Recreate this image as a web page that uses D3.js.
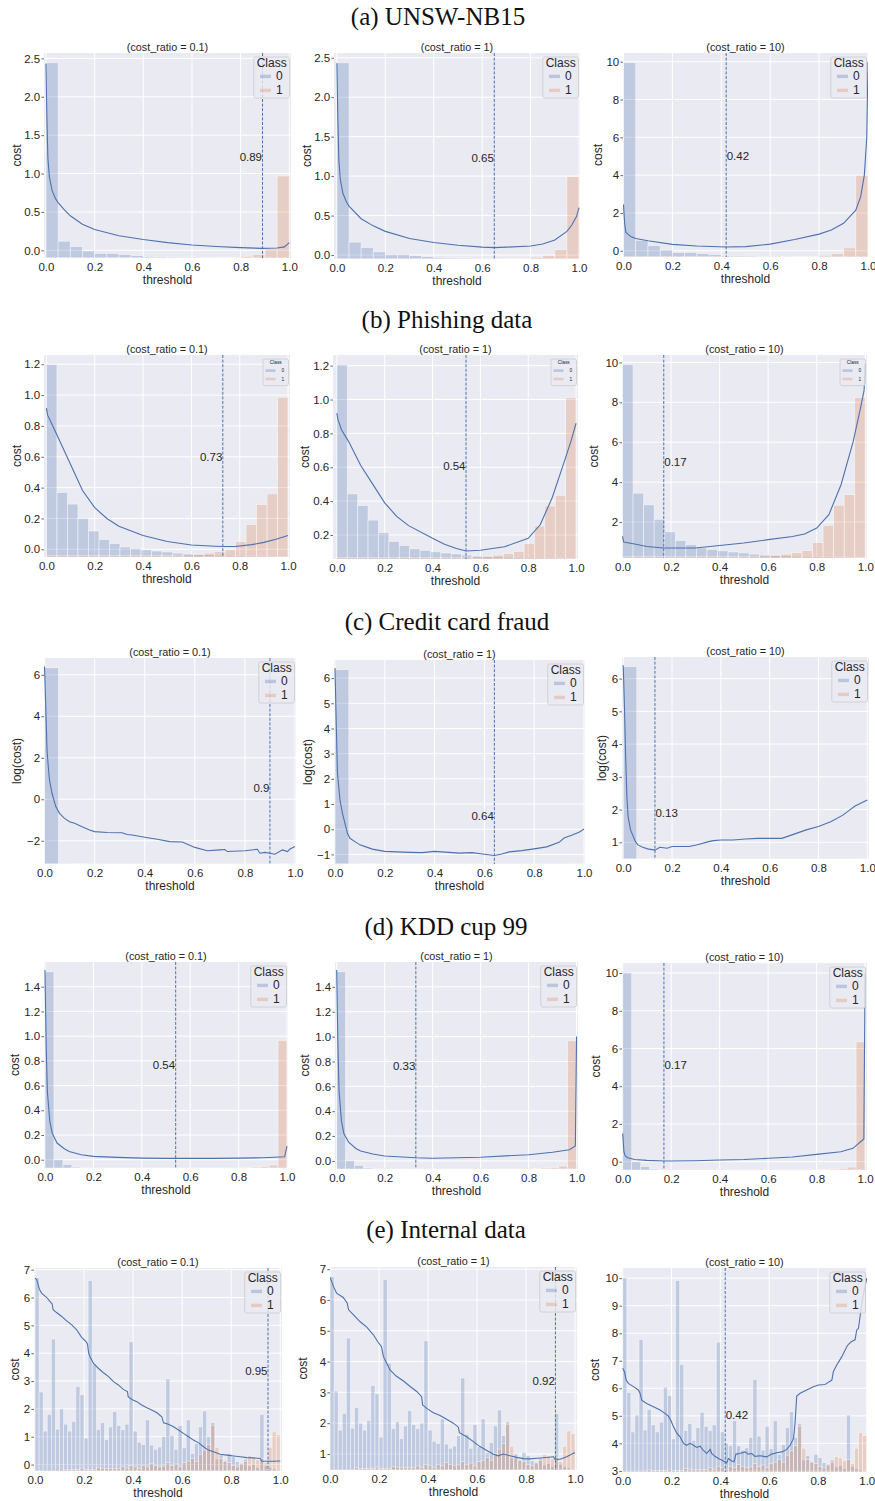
<!DOCTYPE html>
<html><head><meta charset="utf-8">
<script src="https://cdn.jsdelivr.net/npm/d3@7"></script>
<style>
body{margin:0;background:#fff}
svg{display:block}
text{font-family:"Liberation Sans",Arial,sans-serif;fill:#262626}
</style>
</head><body>
<svg id="chart" width="875" height="1501"></svg>
<script>
// ---------------- DATA ----------------
const sectionTitles = ["(a) UNSW-NB15", "(b) Phishing data", "(c) Credit card fraud", "(d) KDD cup 99", "(e) Internal data"];
const costRatios = ["0.1", "1", "10"];
const yAxisLabels = ["cost", "cost", "log(cost)", "cost", "cost"];
const xAxisLabel = "threshold";
const classLabels = ["0", "1"];
const legendTitle = "Class";
const xTickValues = [0, 0.2, 0.4, 0.6, 0.8, 1.0];

const optimalThresholds = [[0.89, 0.65, 0.42], [0.73, 0.54, 0.17], [0.9, 0.64, 0.13], [0.54, 0.33, 0.17], [0.95, 0.92, 0.42]];
const thresholdLabelY = [[1.22, 1.23, 5.0], [0.6, 0.61, 5.03], [0.53, 0.53, 1.91], [0.77, 0.76, 5.1], [3.37, 3.38, 5.03]];

const yTicksA = [[0, 0.5, 1, 1.5, 2, 2.5], [0, 0.5, 1, 1.5, 2, 2.5], [0, 2, 4, 6, 8, 10]];
const yTicksB = [[0, 0.2, 0.4, 0.6, 0.8, 1.0, 1.2], [0.2, 0.4, 0.6, 0.8, 1.0, 1.2], [2, 4, 6, 8, 10]];
const yTicksC = [[-2, 0, 2, 4, 6], [-1, 0, 1, 2, 3, 4, 5, 6], [1, 2, 3, 4, 5, 6]];
const yTicksD = [[0, 0.2, 0.4, 0.6, 0.8, 1.0, 1.2, 1.4], [0, 0.2, 0.4, 0.6, 0.8, 1.0, 1.2, 1.4], [0, 2, 4, 6, 8, 10]];
const yTicksE = [[0, 1, 2, 3, 4, 5, 6, 7], [1, 2, 3, 4, 5, 6, 7], [3, 4, 5, 6, 7, 8, 9, 10]];

// histogram bar heights (relative), bins evenly spanning threshold 0..1
const histA0 = [100, 8.6, 5.8, 3.6, 2.3, 2.3, 1.7, 1.2, 0.7, 0.6, 0.5, 0.4, 0.4, 0.3, 0.3, 0.3, 0.2, 0.2, 0.2, 0.2];
const histA1 = [0.1, 0.1, 0.1, 0.1, 0.1, 0.1, 0.1, 0.1, 0.1, 0.1, 0.1, 0.1, 0.1, 0.1, 0.2, 0.3, 0.9, 1.8, 4.7, 42];
const histB0 = [100, 33.5, 27.5, 20, 13.5, 9, 6.9, 5.2, 4.4, 3.7, 3.1, 2.6, 2.0, 1.6, 1.3, 1.1, 0.9, 0.8, 0.7, 0.6, 0.5, 0.4, 0.3];
const histB1 = [0.8, 0.8, 0.8, 0.8, 0.8, 0.8, 0.8, 0.8, 0.8, 0.8, 0.8, 0.8, 0.9, 1.1, 1.4, 2.0, 2.8, 3.8, 8.0, 16.9, 27.3, 32.8, 83];
const histC0 = [100, 0.3, 0.2, 0.15, 0.1, 0.1, 0.1, 0.1, 0.1, 0.1, 0.1, 0.1, 0.1, 0.1, 0.1, 0.1, 0.1, 0.1];
const histC1 = [0.05, 0.05, 0.05, 0.05, 0.05, 0.05, 0.05, 0.05, 0.05, 0.05, 0.05, 0.05, 0.05, 0.05, 0.05, 0.05, 0.1, 0.3];
const histD0 = [100, 4.2, 1.8, 0.5, 0.2, 0.15, 0.1, 0.1, 0.1, 0.1, 0.05, 0.05, 0.05, 0.05, 0.05, 0.05, 0.05, 0.05, 0.05, 0.05, 0.05, 0.05, 0.05, 0.05, 0.05, 0.05, 0.05];
const histD1 = [0, 0, 0, 0, 0, 0, 0, 0, 0, 0, 0, 0, 0, 0, 0, 0, 0, 0, 0, 0, 0, 0, 0.3, 0.5, 0.8, 1.5, 65];
const histE0 = [6.93, 2.83, 1.43, 2.03, 4.73, 1.5, 2.23, 1.68, 1.43, 1.78, 3.03, 2.73, 1.18, 6.83, 3.83, 1.48, 1.73, 1.13, 1.58, 2.13,
  1.63, 1.48, 1.68, 4.63, 1.43, 1.03, 0.95, 1.83, 0.93, 0.78, 0.86, 1.23, 3.3, 1.28, 0.78, 1.63, 0.83, 1.83, 0.63, 0.98,
  1.58, 2.15, 1.23, 1.73, 0.43, 0.58, 0.38, 0.63, 0.51, 0.33, 0.28, 0.43, 0.18, 0.23, 0.13, 2.03, 0.2, 0.13, 0.08, 0.03];
const histE1 = [0, 0, 0, 0, 0, 0, 0.08, 0.05, 0.05, 0.05, 0.05, 0.1, 0.05, 0.05, 0.05, 0.12, 0.1, 0.08, 0.08, 0.08,
  0.08, 0.15, 0.1, 0.2, 0.15, 0.1, 0.2, 0.15, 0.27, 0.2, 0.15, 0.18, 0.3, 0.2, 0.25, 0.15, 0.3, 0.35, 0.45, 0.35,
  0.6, 0.75, 0.95, 1.64, 0.85, 0.45, 0.35, 0.3, 0.2, 0.15, 0.25, 0.35, 0.55, 0.5, 0.4, 0.45, 0.3, 0.85, 1.4, 1.3];

// cost curves: [threshold, cost]
const curveA1 = [[0,2.43],[0.004,1.7],[0.008,1.2],[0.014,0.96],[0.025,0.78],[0.04,0.67],[0.05,0.62],[0.075,0.53],[0.1,0.45],[0.15,0.34],[0.2,0.27],[0.3,0.19],[0.4,0.14],[0.5,0.1],[0.6,0.07],[0.7,0.05],[0.8,0.035],[0.89,0.025],[0.95,0.03],[0.98,0.045],[1.0,0.1]];
const curveA2 = [[0,2.43],[0.004,1.7],[0.008,1.2],[0.014,0.96],[0.025,0.78],[0.04,0.67],[0.05,0.62],[0.1,0.46],[0.15,0.37],[0.2,0.3],[0.3,0.21],[0.4,0.16],[0.5,0.125],[0.6,0.1],[0.65,0.094],[0.7,0.1],[0.8,0.115],[0.85,0.14],[0.9,0.19],[0.95,0.3],[0.97,0.38],[0.99,0.49],[1.0,0.6]];
const curveA3 = [[0,2.45],[0.005,1.4],[0.01,0.97],[0.03,0.75],[0.05,0.65],[0.1,0.53],[0.2,0.34],[0.3,0.25],[0.42,0.2],[0.5,0.22],[0.6,0.35],[0.7,0.6],[0.8,0.88],[0.85,1.1],[0.9,1.45],[0.95,2.15],[0.97,2.86],[0.985,4.0],[0.995,6.0],[1.0,10.0]];
const curveB1 = [[0,0.915],[0.005,0.87],[0.02,0.82],[0.05,0.72],[0.1,0.55],[0.15,0.38],[0.2,0.27],[0.25,0.2],[0.3,0.15],[0.4,0.09],[0.5,0.05],[0.6,0.028],[0.7,0.02],[0.73,0.018],[0.78,0.018],[0.85,0.03],[0.9,0.045],[0.95,0.065],[1.0,0.09]];
const curveB2 = [[0,0.92],[0.005,0.88],[0.02,0.82],[0.05,0.75],[0.1,0.61],[0.15,0.5],[0.2,0.39],[0.25,0.31],[0.3,0.255],[0.4,0.18],[0.45,0.145],[0.5,0.12],[0.54,0.105],[0.6,0.11],[0.7,0.13],[0.8,0.18],[0.85,0.26],[0.9,0.42],[0.95,0.63],[0.98,0.76],[1.0,0.86]];
const curveB3 = [[0,1.28],[0.005,1.0],[0.05,0.9],[0.1,0.78],[0.17,0.7],[0.3,0.7],[0.4,0.83],[0.5,0.95],[0.6,1.12],[0.7,1.28],[0.75,1.4],[0.8,1.7],[0.85,2.37],[0.9,3.87],[0.95,6.03],[0.98,7.7],[0.995,8.6],[1.0,9.95]];
const curveC1 = [[0,6.4],[0.005,4.48],[0.01,2.39],[0.015,1.58],[0.02,0.93],[0.03,0.29],[0.045,-0.35],[0.06,-0.68],[0.08,-0.92],[0.1,-1.08],[0.12,-1.16],[0.15,-1.32],[0.18,-1.48],[0.2,-1.56],[0.25,-1.6],[0.31,-1.61],[0.33,-1.7],[0.35,-1.72],[0.4,-1.83],[0.45,-1.93],[0.5,-2.04],[0.55,-2.06],[0.6,-2.32],[0.65,-2.48],[0.7,-2.44],[0.72,-2.42],[0.73,-2.52],[0.8,-2.48],[0.85,-2.41],[0.86,-2.6],[0.88,-2.56],[0.9,-2.6],[0.92,-2.65],[0.95,-2.44],[0.97,-2.52],[0.98,-2.4],[1.0,-2.28]];
const curveC2 = [[0,6.4],[0.005,4.2],[0.01,2.22],[0.02,1.16],[0.03,0.63],[0.05,-0.16],[0.06,-0.36],[0.08,-0.49],[0.1,-0.62],[0.13,-0.72],[0.15,-0.79],[0.2,-0.88],[0.3,-0.92],[0.35,-0.93],[0.4,-0.88],[0.5,-0.95],[0.55,-0.93],[0.6,-0.99],[0.64,-1.04],[0.67,-0.98],[0.7,-0.9],[0.75,-0.85],[0.8,-0.78],[0.85,-0.7],[0.9,-0.52],[0.92,-0.35],[0.95,-0.24],[0.98,-0.12],[1.0,0.01]];
const curveC3 = [[0,6.41],[0.005,5.14],[0.01,3.61],[0.015,2.39],[0.02,1.78],[0.03,1.38],[0.05,1.02],[0.06,0.92],[0.08,0.85],[0.1,0.8],[0.13,0.76],[0.15,0.85],[0.18,0.82],[0.2,0.87],[0.27,0.87],[0.3,0.92],[0.35,1.02],[0.37,1.05],[0.4,1.07],[0.45,1.07],[0.5,1.1],[0.55,1.12],[0.6,1.12],[0.65,1.12],[0.7,1.25],[0.75,1.38],[0.8,1.48],[0.85,1.63],[0.9,1.83],[0.93,2.0],[0.95,2.11],[1.0,2.29]];
const curveD1 = [[0,1.535],[0.005,0.93],[0.01,0.55],[0.02,0.31],[0.03,0.215],[0.05,0.135],[0.08,0.089],[0.1,0.067],[0.15,0.04],[0.2,0.027],[0.3,0.019],[0.4,0.013],[0.5,0.011],[0.7,0.011],[0.8,0.013],[0.9,0.016],[0.99,0.024],[1.0,0.11]];
const curveD2 = [[0,1.535],[0.005,0.94],[0.01,0.56],[0.02,0.32],[0.03,0.22],[0.05,0.15],[0.08,0.1],[0.1,0.08],[0.15,0.055],[0.2,0.04],[0.33,0.025],[0.4,0.022],[0.6,0.03],[0.8,0.05],[0.9,0.07],[0.97,0.09],[0.995,0.12],[1.0,1.0]];
const curveD3 = [[0,1.5],[0.005,0.53],[0.01,0.32],[0.02,0.21],[0.05,0.12],[0.1,0.07],[0.17,0.035],[0.2,0.035],[0.3,0.05],[0.4,0.09],[0.5,0.12],[0.6,0.18],[0.7,0.25],[0.8,0.39],[0.9,0.53],[0.95,0.71],[0.99,1.15],[0.995,1.2],[1.0,10.0]];
const curveE1 = [[0,6.7],[0.007,6.64],[0.018,6.3],[0.027,6.16],[0.048,6.0],[0.061,5.86],[0.07,5.77],[0.074,5.56],[0.088,5.46],[0.109,5.32],[0.129,5.16],[0.15,5.02],[0.17,4.84],[0.19,4.57],[0.208,4.42],[0.214,4.33],[0.219,4.0],[0.224,3.88],[0.238,3.64],[0.258,3.46],[0.279,3.3],[0.3,3.16],[0.32,2.98],[0.34,2.86],[0.36,2.7],[0.377,2.62],[0.38,2.44],[0.395,2.34],[0.415,2.26],[0.435,2.14],[0.456,2.04],[0.476,1.96],[0.497,1.86],[0.517,1.72],[0.524,1.5],[0.544,1.45],[0.565,1.36],[0.585,1.24],[0.605,1.12],[0.626,1.0],[0.646,0.88],[0.667,0.78],[0.687,0.64],[0.707,0.52],[0.728,0.46],[0.755,0.37],[0.782,0.34],[0.81,0.31],[0.837,0.28],[0.864,0.25],[0.891,0.24],[0.918,0.22],[0.925,0.12],[0.946,0.12],[0.973,0.12],[1.0,0.13]];
const curveE2 = [[0,6.74],[0.014,6.44],[0.027,6.22],[0.054,6.08],[0.07,5.9],[0.076,5.68],[0.095,5.52],[0.122,5.3],[0.15,5.12],[0.177,4.87],[0.197,4.62],[0.21,4.49],[0.218,4.16],[0.231,3.95],[0.245,3.73],[0.27,3.53],[0.3,3.37],[0.327,3.19],[0.354,3.03],[0.374,2.86],[0.378,2.59],[0.395,2.48],[0.42,2.35],[0.449,2.25],[0.476,2.13],[0.503,2.0],[0.524,1.87],[0.528,1.69],[0.558,1.56],[0.585,1.4],[0.612,1.24],[0.64,1.11],[0.667,0.99],[0.687,0.94],[0.707,1.0],[0.735,0.94],[0.762,0.89],[0.789,0.85],[0.816,0.84],[0.844,0.86],[0.871,0.88],[0.912,0.91],[0.918,0.83],[0.939,0.83],[0.966,0.91],[0.993,1.02],[1.0,1.04]];
const curveE3 = [[0,6.73],[0.007,6.6],[0.014,6.3],[0.023,6.18],[0.044,6.06],[0.064,5.94],[0.071,5.82],[0.078,5.57],[0.098,5.45],[0.126,5.33],[0.153,5.21],[0.173,5.09],[0.187,4.99],[0.197,4.84],[0.208,4.6],[0.221,4.38],[0.235,4.24],[0.249,4.0],[0.262,3.93],[0.276,4.0],[0.29,3.93],[0.303,3.85],[0.317,3.9],[0.33,3.75],[0.344,3.63],[0.358,3.78],[0.365,3.63],[0.378,3.53],[0.392,3.45],[0.413,3.36],[0.426,3.29],[0.433,3.45],[0.447,3.36],[0.456,3.33],[0.464,3.61],[0.48,3.63],[0.501,3.69],[0.515,3.61],[0.529,3.63],[0.542,3.53],[0.563,3.55],[0.59,3.51],[0.61,3.61],[0.631,3.66],[0.652,3.69],[0.672,3.78],[0.686,3.93],[0.7,4.18],[0.706,4.72],[0.713,5.72],[0.727,5.82],[0.754,5.94],[0.781,6.06],[0.802,6.12],[0.829,6.14],[0.836,6.18],[0.857,6.3],[0.863,6.6],[0.877,6.85],[0.898,7.15],[0.918,7.51],[0.925,7.6],[0.938,7.7],[0.952,7.76],[0.959,8.12],[0.966,8.18],[0.98,9.09],[0.993,9.7],[1.0,10.0]];

// ---------------- LAYOUT ----------------
const sectionTitleY = [25, 328, 630, 935, 1238];
const sectionTitleX = [438, 447, 447, 446, 446];
const panelRects = [
  [[44, 53, 291, 258], [334, 53, 580, 259], [623, 53, 868, 257]],
  [[44, 355, 290, 557], [333, 355, 578, 559], [622, 355, 867, 558]],
  [[44, 658, 296, 864], [334, 660, 585, 864], [622, 657, 869, 859]],
  [[44, 962, 288, 1168], [335, 962, 578, 1169], [622, 963, 867, 1170]],
  [[34, 1268, 282, 1471], [330, 1267, 577, 1470], [622, 1268, 867, 1472]]
];
const xDomains = [
  [[-0.008, 1.007], [-0.012, 1.004], [-0.002, 1.0]],
  [[-0.01, 1.008], [-0.016, 1.008], [-0.002, 1.007]],
  [[-0.002, 1.004], [-0.004, 1.004], [-0.005, 1.007]],
  [[-0.004, 1.004], [-0.007, 1.006], [-0.003, 1.008]],
  [[-0.004, 1.007], [0.0, 1.008], [-0.003, 1.001]]
];
const yDomains = [
  [[-0.1, 2.57], [-0.05, 2.56], [-0.33, 10.46]],
  [[-0.05, 1.26], [0.058, 1.263], [0.2, 10.37]],
  [[-3.12, 6.81], [-1.38, 6.72], [0.49, 6.66]],
  [[-0.067, 1.6], [-0.065, 1.6], [-0.44, 10.53]],
  [[-0.23, 7.06], [0.48, 7.07], [2.96, 10.37]]
];
const yLabelOffsets = [[27.3, 27.3, 24.7], [26.7, 28, 27.7], [26.7, 25.7, 20.3], [29, 30, 26.3], [19.3, 26.7, 27]];
const smallLegendRow = [false, true, false, false, false];

// ---------------- DRAW ----------------
const hists0 = [histA0, histB0, histC0, histD0, histE0];
const hists1 = [histA1, histB1, histC1, histD1, histE1];
const curves = [[curveA1, curveA2, curveA3], [curveB1, curveB2, curveB3], [curveC1, curveC2, curveC3], [curveD1, curveD2, curveD3], [curveE1, curveE2, curveE3]];
const yTicks = [yTicksA, yTicksB, yTicksC, yTicksD, yTicksE];

const BG = "#eaeaf2", BLUE = "#4c72b0", ORANGE = "#dd8452";
const svg = d3.select("#chart");
svg.append("rect").attr("width", 875).attr("height", 1501).attr("fill", "#fff");

sectionTitles.forEach((t, i) => {
  svg.append("text").attr("x", sectionTitleX[i]).attr("y", sectionTitleY[i])
    .attr("text-anchor", "middle")
    .style("font-family", '"Liberation Serif","DejaVu Serif",serif')
    .style("font-size", "25px").style("fill", "#111").text(t);
});

let clipId = 0;
function drawPanel(r, c) {
  const [x0, y0, x1, y1] = panelRects[r][c];
  const x = d3.scaleLinear().domain(xDomains[r][c]).range([x0, x1]);
  const y = d3.scaleLinear().domain(yDomains[r][c]).range([y1, y0]);
  const g = svg.append("g");

  g.append("rect").attr("x", x0).attr("y", y0).attr("width", x1 - x0).attr("height", y1 - y0).attr("fill", BG);

  // grid
  g.selectAll(".gx").data(xTickValues).join("line")
    .attr("x1", d => x(d)).attr("x2", d => x(d)).attr("y1", y0).attr("y2", y1)
    .attr("stroke", "#fff").attr("stroke-width", 1);
  g.selectAll(".gy").data(yTicks[r][c]).join("line")
    .attr("x1", x0).attr("x2", x1).attr("y1", d => y(d)).attr("y2", d => y(d))
    .attr("stroke", "#fff").attr("stroke-width", 1);

  const id = "clip" + (clipId++);
  g.append("clipPath").attr("id", id).append("rect")
    .attr("x", x0).attr("y", y0).attr("width", x1 - x0).attr("height", y1 - y0);
  const inner = g.append("g").attr("clip-path", `url(#${id})`);

  // histogram (hidden twin axis)
  const h0 = hists0[r], h1 = hists1[r], n = h0.length;
  const yh = d3.scaleLinear().domain([0, d3.max(h0.concat(h1)) * 1.05]).range([y1, y0]);
  [[h0, BLUE], [h1, ORANGE]].forEach(([hv, col]) => {
    inner.append("g").selectAll("rect").data(hv).join("rect")
      .attr("x", (d, k) => x(k / n)).attr("width", (d, k) => x((k + 1) / n) - x(k / n))
      .attr("y", d => yh(d)).attr("height", d => y1 - yh(d))
      .attr("fill", col).attr("fill-opacity", 0.27)
      .attr("stroke", "#fff").attr("stroke-opacity", 0.6).attr("stroke-width", 0.7);
  });

  // cost curve
  const line = d3.line().x(d => x(d[0])).y(d => y(d[1]));
  inner.append("path").datum(curves[r][c]).attr("d", line)
    .attr("fill", "none").attr("stroke", BLUE).attr("stroke-width", 1.1);

  // optimal threshold
  const th = optimalThresholds[r][c];
  inner.append("line").attr("x1", x(th)).attr("x2", x(th)).attr("y1", y0).attr("y2", y1)
    .attr("stroke", BLUE).attr("stroke-width", 1).attr("stroke-dasharray", "3,1.6");
  const anchorEnd = c < 2;
  g.append("text").attr("x", anchorEnd ? x(th) - 0.5 : x(th) + 0.5).attr("y", y(thresholdLabelY[r][c]))
    .attr("text-anchor", anchorEnd ? "end" : "start").attr("dominant-baseline", "central")
    .style("font-size", "11.5px").text(String(th));

  // axes
  const allInt = yTicks[r][c].every(v => Number.isInteger(v));
  const ya = d3.axisLeft(y).tickValues(yTicks[r][c]).tickFormat(d3.format(allInt ? "d" : ".1f"))
    .tickSize(2.6).tickPadding(1.2);
  const yg = g.append("g").attr("transform", `translate(${x0},0)`).call(ya);
  yg.select(".domain").remove();
  yg.selectAll("line").attr("stroke", "#444").attr("stroke-width", 0.8);
  yg.selectAll("text").style("font-size", "11.5px").style("font-family", '"Liberation Sans",Arial,sans-serif').attr("fill", "#262626");

  const xa = d3.axisBottom(x).tickValues(xTickValues).tickFormat(d3.format(".1f")).tickSize(0).tickPadding(5);
  const xg = g.append("g").attr("transform", `translate(0,${y1})`).call(xa);
  xg.select(".domain").remove();
  xg.selectAll("text").style("font-size", "11.5px").style("font-family", '"Liberation Sans",Arial,sans-serif').attr("fill", "#262626");

  // labels
  const cx = (x0 + x1) / 2;
  g.append("text").attr("x", cx).attr("y", y0 - 2).attr("text-anchor", "middle")
    .style("font-size", "10.8px").text(`(cost_ratio = ${costRatios[c]})`);
  g.append("text").attr("x", cx).attr("y", y1 + 26).attr("text-anchor", "middle")
    .style("font-size", "12px").text(xAxisLabel);
  const lx = x0 - yLabelOffsets[r][c], ly = (y0 + y1) / 2;
  g.append("text").attr("transform", `translate(${lx},${ly}) rotate(-90)`)
    .attr("text-anchor", "middle").attr("dominant-baseline", "central")
    .style("font-size", "12px").text(yAxisLabels[r]);

  // legend
  const small = smallLegendRow[r];
  const L = small
    ? {w: 25.5, h: 26.6, tf: 4.8, ef: 4.8, ty: 3.6, ey: [11.6, 20], px: 2.5, pw: 10, ph: 2.6, lx: 18.5}
    : {w: 35.7, h: 41, tf: 12, ef: 12, ty: 6.2, ey: [19.4, 33.4], px: 6.2, pw: 11, ph: 3.4, lx: 22.2};
  const bx = x1 - 1.5 - L.w, by = y0 + 4;
  const lg = g.append("g");
  lg.append("rect").attr("x", bx).attr("y", by).attr("width", L.w).attr("height", L.h).attr("rx", 2)
    .attr("fill", BG).attr("fill-opacity", 0.8).attr("stroke", "#cccccc").attr("stroke-width", 0.8);
  lg.append("text").attr("x", bx + L.w / 2).attr("y", by + L.ty).attr("text-anchor", "middle")
    .attr("dominant-baseline", "central").style("font-size", L.tf + "px").text(legendTitle);
  [BLUE, ORANGE].forEach((col, k) => {
    lg.append("rect").attr("x", bx + L.px).attr("y", by + L.ey[k] - L.ph / 2).attr("width", L.pw).attr("height", L.ph)
      .attr("fill", col).attr("fill-opacity", 0.3);
    lg.append("text").attr("x", bx + L.lx).attr("y", by + L.ey[k]).attr("dominant-baseline", "central")
      .style("font-size", L.ef + "px").text(classLabels[k]);
  });
}

for (let r = 0; r < 5; r++) for (let c = 0; c < 3; c++) drawPanel(r, c);
</script>
</body></html>
